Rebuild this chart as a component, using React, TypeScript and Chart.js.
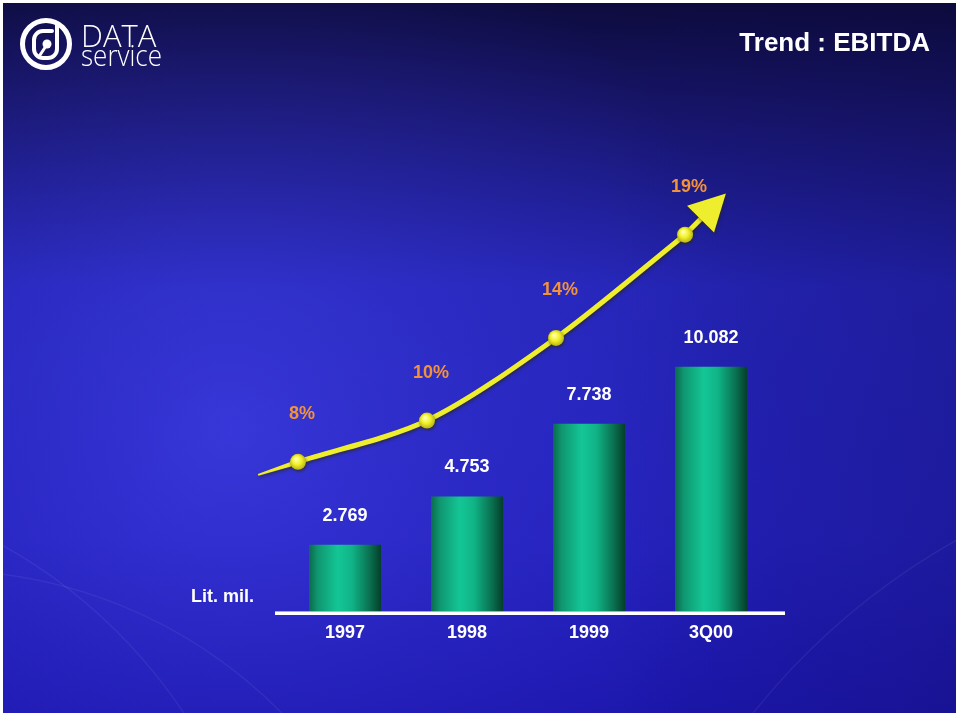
import React, { useEffect, useRef } from "react";
import { Chart, registerables } from "chart.js";

Chart.register(...registerables);

// ---- data ----
const categories = ["1997", "1998", "1999", "3Q00"];
const ebitda = [2.769, 4.753, 7.738, 10.082];
const ebitdaLabels = ["2.769", "4.753", "7.738", "10.082"];
const marginPct = [8, 10, 14, 19];
const marginLabels = ["8%", "10%", "14%", "19%"];
const unitLabel = "Lit. mil.";
const titleText = "Trend : EBITDA";

const FONT = "'Liberation Sans', Arial, Helvetica, sans-serif";
const W = 960;
const H = 716;

const backgroundPlugin = {
  id: "bg",
  beforeDraw(chart: any) {
    const ctx = chart.ctx as CanvasRenderingContext2D;
    ctx.save();
    ctx.fillStyle = "#ffffff";
    ctx.fillRect(0, 0, W, H);
    const x0 = 3, y0 = 3, x1 = 956, y1 = 713;
    const lg = ctx.createLinearGradient(0, 0, 0, H);
    lg.addColorStop(0, "#0d0b3c");
    lg.addColorStop(0.14, "#161466");
    lg.addColorStop(0.4, "#2424b6");
    lg.addColorStop(0.75, "#2320ba");
    lg.addColorStop(1, "#1c16ac");
    ctx.fillStyle = lg;
    ctx.fillRect(x0, y0, x1 - x0, y1 - y0);
    const rg = ctx.createRadialGradient(230, 430, 0, 230, 430, 540);
    rg.addColorStop(0, "rgba(80,80,255,0.45)");
    rg.addColorStop(0.5, "rgba(70,70,240,0.2)");
    rg.addColorStop(1, "rgba(60,60,230,0)");
    ctx.fillStyle = rg;
    ctx.fillRect(x0, y0, x1 - x0, y1 - y0);
    const hg = ctx.createLinearGradient(600, 0, W, 0);
    hg.addColorStop(0, "rgba(10,5,60,0)");
    hg.addColorStop(1, "rgba(10,5,60,0.22)");
    ctx.fillStyle = hg;
    ctx.fillRect(x0, y0, x1 - x0, y1 - y0);
    ctx.beginPath();
    ctx.rect(x0, y0, x1 - x0, y1 - y0);
    ctx.clip();
    ctx.strokeStyle = "rgba(255,255,255,0.06)";
    ctx.lineWidth = 1.5;
    const arcs = [
      [-60, 1050, 480, -1.75, -0.6],
      [-250, 1000, 520, -1.2, -0.3],
      [1300, 1150, 700, 3.6, 4.2],
    ];
    arcs.forEach((a) => {
      ctx.beginPath();
      ctx.arc(a[0], a[1], a[2], a[3], a[4]);
      ctx.stroke();
    });
    ctx.restore();
  },
};

function drawLogo(ctx: CanvasRenderingContext2D) {
  ctx.save();
  ctx.strokeStyle = "#ffffff";
  ctx.fillStyle = "#ffffff";
  ctx.lineCap = "round";
  ctx.lineWidth = 5;
  ctx.beginPath();
  ctx.arc(46, 44, 23.5, 0, Math.PI * 2);
  ctx.stroke();
  ctx.lineWidth = 4;
  ctx.beginPath();
  const l = 34, t = 31, r = 57, b = 58, rad = 9;
  ctx.moveTo(r, 24);
  ctx.lineTo(r, b - rad);
  ctx.arcTo(r, b, r - rad, b, rad);
  ctx.lineTo(l + rad, b);
  ctx.arcTo(l, b, l, b - rad, rad);
  ctx.lineTo(l, t + rad);
  ctx.arcTo(l, t, l + rad, t, rad);
  ctx.lineTo(r - 5, t);
  ctx.stroke();
  ctx.beginPath();
  ctx.arc(47, 44, 4.5, 0, Math.PI * 2);
  ctx.fill();
  ctx.lineWidth = 3;
  ctx.beginPath();
  ctx.moveTo(46, 46);
  ctx.lineTo(40, 55);
  ctx.stroke();
  ctx.textAlign = "left";
  ctx.textBaseline = "alphabetic";
  ctx.font = `300 31px 'Open Sans', ${FONT}`;
  ctx.fillText("DATA", 81, 47, 79);
  ctx.font = `300 30px 'Open Sans', ${FONT}`;
  ctx.fillText("service", 81, 66, 81);
  ctx.restore();
}

const ok = (...v: number[]) => v.every((n) => Number.isFinite(n));

const decorPlugin = {
  id: "decor",
  beforeDatasetDraw(chart: any, args: any) {
    if (args.index !== 1) return;
    const ctx = chart.ctx as CanvasRenderingContext2D;
    ctx.save();
    ctx.shadowColor = "rgba(40,40,0,0.55)";
    ctx.shadowBlur = 3;
    ctx.shadowOffsetX = 1;
    ctx.shadowOffsetY = 2;
    const pts = chart.getDatasetMeta(1).data;
    if (pts.length < 3) return;
    const yellow = "#eeee2e";
    ctx.fillStyle = yellow;
    ctx.strokeStyle = yellow;
    const p0 = pts[0], p1 = pts[1];
    let dx = p0.x - p1.x, dy = p0.y - p1.y;
    let len = Math.hypot(dx, dy);
    if (!ok(len) || len === 0) return;
    let ux = dx / len, uy = dy / len;
    const tailLen = 42;
    const nx = -uy, ny = ux;
    ctx.beginPath();
    ctx.moveTo(p0.x + nx * 2.6, p0.y + ny * 2.6);
    ctx.lineTo(p0.x + ux * tailLen + nx * 0.6, p0.y + uy * tailLen + ny * 0.6);
    ctx.lineTo(p0.x + ux * tailLen - nx * 1.2, p0.y + uy * tailLen - ny * 1.2);
    ctx.lineTo(p0.x - nx * 2.6, p0.y - ny * 2.6);
    ctx.closePath();
    ctx.fill();
    const n = pts.length;
    const a = pts[n - 3], b = pts[n - 2], c = pts[n - 1];
    const d1x = c.x - b.x, d1y = c.y - b.y;
    const d0x = b.x - a.x, d0y = b.y - a.y;
    dx = d1x + 1.3 * (d1x - d0x);
    dy = d1y + 1.3 * (d1y - d0y);
    len = Math.hypot(dx, dy);
    ux = dx / len;
    uy = dy / len;
    const shaft = 22, head = 36, half = 19;
    const bx = c.x + ux * shaft, by = c.y + uy * shaft;
    ctx.lineWidth = 5;
    ctx.lineCap = "round";
    ctx.beginPath();
    ctx.moveTo(c.x, c.y);
    ctx.lineTo(bx + ux * 3, by + uy * 3);
    ctx.stroke();
    ctx.beginPath();
    ctx.moveTo(bx + ux * head, by + uy * head);
    ctx.lineTo(bx - uy * half, by + ux * half);
    ctx.lineTo(bx + uy * half, by - ux * half);
    ctx.closePath();
    ctx.fill();
  },
  afterDatasetDraw(chart: any, args: any) {
    if (args.index !== 1) return;
    chart.ctx.restore();
  },
  afterDraw(chart: any) {
    const ctx = chart.ctx as CanvasRenderingContext2D;
    const area = chart.chartArea;
    ctx.save();
    ctx.fillStyle = "#ffffff";
    ctx.fillRect(area.left - 9, area.bottom, area.right - area.left + 22, 3);
    ctx.fillStyle = "rgba(190,190,255,0.8)";
    ctx.fillRect(area.left - 9, area.bottom - 1, area.right - area.left + 22, 1);
    ctx.fillStyle = "#ffffff";
    ctx.font = `bold 18px ${FONT}`;
    ctx.textAlign = "center";
    ctx.textBaseline = "middle";
    const bars = chart.getDatasetMeta(0).data;
    bars.forEach((bar: any, i: number) => {
      ctx.fillText(ebitdaLabels[i], bar.x, bar.y - 29);
    });
    ctx.fillStyle = "#f2923a";
    const pts = chart.getDatasetMeta(1).data;
    pts.forEach((p: any, i: number) => {
      ctx.fillText(marginLabels[i], p.x + 4, p.y - 48);
    });
    ctx.fillStyle = "#ffffff";
    ctx.textAlign = "right";
    ctx.fillText(unitLabel, area.left - 30, area.bottom - 15);
    ctx.font = `bold 26px ${FONT}`;
    ctx.textAlign = "right";
    ctx.fillText(titleText, 930, 44);
    ctx.restore();
    drawLogo(ctx);
  },
};

export default function App() {
  const canvasRef = useRef<HTMLCanvasElement | null>(null);

  useEffect(() => {
    document.body.style.margin = "0";
    const canvas = canvasRef.current;
    if (!canvas) return;

    const barColor = (ctx: any) => {
      const chart = ctx.chart;
      const xs = chart.scales && chart.scales.x;
      if (ctx.dataIndex === undefined || !xs || !chart.chartArea) return "#10a878";
      const cx = xs.getPixelForValue(ctx.dataIndex);
      const w = (xs.width / categories.length) * 0.59;
      if (!ok(cx, w) || w <= 0) return "#10a878";
      const g = chart.ctx.createLinearGradient(cx - w / 2, 0, cx + w / 2, 0);
      g.addColorStop(0, "#0b6a4c");
      g.addColorStop(0.12, "#0f9670");
      g.addColorStop(0.4, "#14c695");
      g.addColorStop(0.6, "#10b386");
      g.addColorStop(0.85, "#0a6e4e");
      g.addColorStop(1, "#043f2a");
      return g;
    };

    const ballColor = (ctx: any) => {
      const chart = ctx.chart;
      const xs = chart.scales && chart.scales.x2;
      const ys = chart.scales && chart.scales.y2;
      if (ctx.dataIndex === undefined || !xs || !ys || !ctx.parsed || !chart.chartArea) return "#eeee2e";
      const px = xs.getPixelForValue(ctx.parsed.x);
      const py = ys.getPixelForValue(ctx.parsed.y);
      if (!ok(px, py)) return "#eeee2e";
      const g = chart.ctx.createRadialGradient(px - 2, py - 3, 1, px, py, 9);
      g.addColorStop(0, "#ffffa0");
      g.addColorStop(0.45, "#f0f02a");
      g.addColorStop(1, "#b0a810");
      return g;
    };

    const chart = new Chart(canvas, {
      type: "bar",
      data: {
        labels: categories,
        datasets: [
          {
            type: "bar",
            label: "EBITDA",
            data: ebitda,
            xAxisID: "x",
            yAxisID: "y",
            backgroundColor: barColor,
            borderWidth: 0,
            grouped: false,
            categoryPercentage: 1,
            barPercentage: 0.59,
            order: 2,
          } as any,
          {
            type: "line",
            label: "Margin %",
            data: marginPct.map((v, i) => ({ x: i, y: v })),
            xAxisID: "x2",
            yAxisID: "y2",
            borderColor: "#eeee2e",
            borderWidth: 5,
            tension: 0.3,
            pointRadius: 8,
            pointBorderWidth: 0,
            pointBackgroundColor: ballColor,
            clip: false,
            order: 1,
          } as any,
        ],
      },
      options: {
        responsive: false,
        animation: false,
        events: [],
        layout: { padding: { left: 284, right: 188, top: 150, bottom: 0 } },
        plugins: {
          legend: { display: false },
          tooltip: { enabled: false },
          title: { display: false },
        },
        scales: {
          x: {
            type: "category",
            offset: true,
            grid: { display: false, drawTicks: false },
            border: { display: false },
            ticks: {
              color: "#ffffff",
              padding: 10,
              font: { family: FONT, size: 18, weight: "bold" },
            },
            afterFit: (s: any) => {
              s.height = 104;
            },
          },
          y: { display: false, min: 0, max: 19 },
          x2: {
            type: "linear",
            display: false,
            offset: false,
            bounds: "data",
            min: -0.1085,
            max: 3.674,
            grid: { offset: false },
          },
          y2: { type: "linear", display: false, bounds: "data", min: 0.73, max: 23.1 },
        },
      } as any,
      plugins: [backgroundPlugin, decorPlugin],
    });

    return () => chart.destroy();
  }, []);

  return (
    <div style={{ width: W, height: H }}>
      <canvas ref={canvasRef} width={W} height={H} style={{ display: "block" }} />
    </div>
  );
}
